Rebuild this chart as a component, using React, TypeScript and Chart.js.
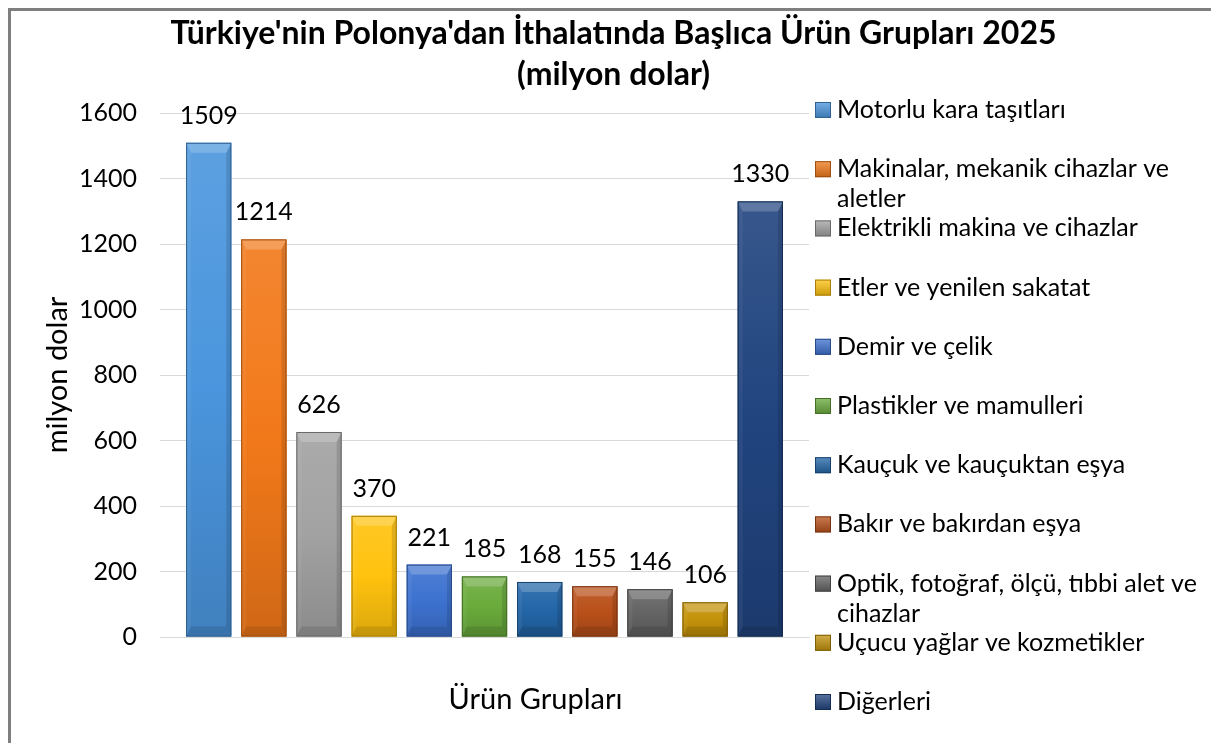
import React, { useEffect, useRef } from 'react';
import { Chart, registerables } from 'chart.js';

Chart.register(...registerables);

const titleLines = ["Türkiye'nin Polonya'dan İthalatında Başlıca Ürün Grupları 2025", '(milyon dolar)'];
const xAxisTitle = 'Ürün Grupları';
const yAxisTitle = 'milyon dolar';
const categories = [
  'Motorlu kara taşıtları',
  'Makinalar, mekanik cihazlar ve aletler',
  'Elektrikli makina ve cihazlar',
  'Etler ve yenilen sakatat',
  'Demir ve çelik',
  'Plastikler ve mamulleri',
  'Kauçuk ve kauçuktan eşya',
  'Bakır ve bakırdan eşya',
  'Optik, fotoğraf, ölçü, tıbbi alet ve cihazlar',
  'Uçucu yağlar ve kozmetikler',
  'Diğerleri',
];
const values = [1509, 1214, 626, 370, 221, 185, 168, 155, 146, 106, 1330];
const barColors = [
  '#4a95dd', '#f2791a', '#a2a2a2', '#ffc20e', '#3d72d0', '#6aab3c',
  '#2366a8', '#b9501a', '#646464', '#c4920a', '#21447f',
];
const yTicks = [0, 200, 400, 600, 800, 1000, 1200, 1400, 1600];

const FONT = 'Lato, "Open Sans", sans-serif';

function hexToRgb(h: string) {
  const n = parseInt(h.slice(1), 16);
  return [(n >> 16) & 255, (n >> 8) & 255, n & 255];
}
function shade(h: string, f: number) {
  const [r, g, b] = hexToRgb(h);
  const t = f < 0 ? 0 : 255;
  const p = Math.abs(f);
  return `rgb(${Math.round(r + (t - r) * p)},${Math.round(g + (t - g) * p)},${Math.round(b + (t - b) * p)})`;
}

const bevelPlugin = {
  id: 'bevel',
  afterDatasetsDraw(chart: any) {
    const ctx = chart.ctx;
    chart.data.datasets.forEach((ds: any, di: number) => {
      const meta = chart.getDatasetMeta(di);
      meta.data.forEach((el: any, idx: number) => {
        const { x, y, base, width } = el.getProps(['x', 'y', 'base', 'width'], true);
        const l = x - width / 2, r = x + width / 2, t = y, b = base;
        const h = b - t;
        const bv = Math.min(10, h / 2);
        const col = barColors[di];
        ctx.save();
        const g = ctx.createLinearGradient(0, t, 0, b);
        g.addColorStop(0, shade(col, 0.1));
        g.addColorStop(0.5, col);
        g.addColorStop(1, shade(col, -0.14));
        ctx.fillStyle = g;
        ctx.fillRect(l, t, width, h);
        // left side
        ctx.fillStyle = 'rgba(255,255,255,0.05)';
        ctx.beginPath();
        ctx.moveTo(l, t); ctx.lineTo(l + bv * 0.5, t + bv); ctx.lineTo(l + bv * 0.5, b - bv); ctx.lineTo(l, b); ctx.closePath(); ctx.fill();
        // right side
        ctx.fillStyle = 'rgba(0,0,0,0.12)';
        ctx.beginPath();
        ctx.moveTo(r, t); ctx.lineTo(r - bv * 0.5, t + bv); ctx.lineTo(r - bv * 0.5, b - bv); ctx.lineTo(r, b); ctx.closePath(); ctx.fill();
        // top bevel
        ctx.fillStyle = 'rgba(255,255,255,0.2)';
        ctx.beginPath();
        ctx.moveTo(l, t); ctx.lineTo(r, t); ctx.lineTo(r - bv * 0.5, t + bv); ctx.lineTo(l + bv * 0.5, t + bv); ctx.closePath(); ctx.fill();
        // bottom bevel
        ctx.fillStyle = 'rgba(0,0,0,0.1)';
        ctx.beginPath();
        ctx.moveTo(l, b); ctx.lineTo(r, b); ctx.lineTo(r - bv * 0.5, b - bv); ctx.lineTo(l + bv * 0.5, b - bv); ctx.closePath(); ctx.fill();
        ctx.strokeStyle = shade(col, -0.35);
        ctx.lineWidth = 1;
        ctx.strokeRect(l + 0.5, t + 0.5, width - 1, h - 1);
        // value label
        ctx.fillStyle = '#000';
        ctx.font = `25px ${FONT}`;
        ctx.textAlign = 'center';
        ctx.textBaseline = 'alphabetic';
        ctx.fillText(String(ds.data[idx]), x, t - 19);
        ctx.restore();
      });
    });
  },
};

function wrap(ctx: CanvasRenderingContext2D, text: string, maxW: number) {
  const words = text.split(' ');
  const lines: string[] = [];
  let cur = '';
  for (const w of words) {
    const test = cur ? cur + ' ' + w : w;
    if (ctx.measureText(test).width > maxW && cur) {
      lines.push(cur);
      cur = w;
    } else cur = test;
  }
  if (cur) lines.push(cur);
  return lines;
}

const decorPlugin = {
  id: 'decor',
  afterDraw(chart: any) {
    const ctx = chart.ctx;
    const area = chart.chartArea;
    ctx.save();
    // Title
    ctx.fillStyle = '#000';
    ctx.font = `bold 32px ${FONT}`;
    ctx.textAlign = 'center';
    ctx.textBaseline = 'middle';
    const cx = chart.width / 2;
    ctx.fillText(titleLines[0], cx, 23);
    ctx.fillText(titleLines[1], cx, 64);
    // x axis title
    ctx.font = `29px ${FONT}`;
    ctx.fillText(xAxisTitle, (area.left + area.right) / 2 + 51, area.bottom + 63);
    // Legend
    ctx.font = `25px ${FONT}`;
    ctx.textAlign = 'left';
    const boxX = area.right + 6;
    const textX = area.right + 28;
    const maxW = chart.width - textX - 6;
    categories.forEach((c, i) => {
      const cy = area.top - 3 + i * 59.2;
      const col = barColors[i];
      const g = ctx.createLinearGradient(0, cy - 8, 0, cy + 8);
      g.addColorStop(0, shade(col, 0.25));
      g.addColorStop(1, shade(col, -0.2));
      ctx.fillStyle = g;
      ctx.fillRect(boxX, cy - 8, 16, 16);
      ctx.strokeStyle = shade(col, -0.35);
      ctx.strokeRect(boxX + 0.5, cy - 7.5, 15, 15);
      ctx.fillStyle = '#000';
      const lines = wrap(ctx, c, maxW);
      lines.forEach((ln, k) => ctx.fillText(ln, textX, cy + k * 30));
    });
    ctx.restore();
  },
};

export default function App() {
  const ref = useRef<HTMLCanvasElement>(null);
  useEffect(() => {
    if (!ref.current) return;
    const chart = new Chart(ref.current, {
      type: 'bar',
      data: {
        labels: [''],
        datasets: categories.map((c, i) => ({
          label: c,
          data: [values[i]],
          backgroundColor: barColors[i],
          borderWidth: 0,
        })),
      },
      options: {
        animation: false,
        responsive: false,
        maintainAspectRatio: false,
        datasets: { bar: { categoryPercentage: 0.935, barPercentage: 0.82 } },
        layout: { padding: { top: 102, right: 407, left: 0, bottom: 0 } },
        plugins: { legend: { display: false }, title: { display: false }, tooltip: { enabled: false } },
        scales: {
          x: {
            ticks: { display: false },
            grid: { display: false, drawTicks: false },
            border: { display: true, color: '#d9d9d9', width: 1 },
            afterFit: (s: any) => { s.height = 106; },
          },
          y: {
            min: 0,
            max: 1600,
            afterBuildTicks: (s: any) => { s.ticks = yTicks.map((v) => ({ value: v })); },
            ticks: { color: '#000', font: { family: FONT, size: 25 }, padding: 23, callback: (v: any) => String(v) },
            grid: { color: '#d9d9d9', drawTicks: false },
            border: { display: false },
            title: { display: true, text: yAxisTitle, color: '#000', font: { family: FONT, size: 29 }, padding: { top: 29, bottom: 0 } },
            afterFit: (s: any) => { s.width = 149; },
          },
        },
      },
      plugins: [bevelPlugin, decorPlugin],
    });
    return () => chart.destroy();
  }, []);
  return (
    <div style={{ width: 1205, height: 732, border: '3px solid #7f7f7f', borderBottom: 'none', boxSizing: 'content-box', background: '#fff' }}>
      <canvas ref={ref} width={1205} height={732} style={{ display: 'block' }} />
    </div>
  );
}
